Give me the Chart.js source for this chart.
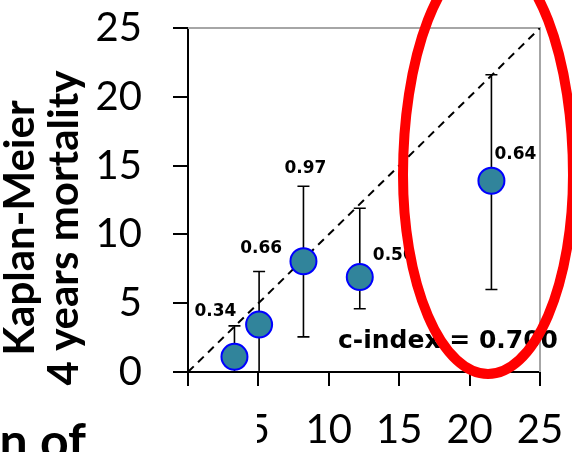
<!DOCTYPE html>
<html>
<head>
<meta charset="utf-8">
<script src="https://cdn.jsdelivr.net/npm/chart.js@4"></script>
<style>
  html, body { margin: 0; padding: 0; background: #fff; }
  #wrap { width: 572px; height: 452px; position: relative; }
</style>
</head>
<body>
<div id="wrap"><canvas id="grafico"></canvas></div>
<script>
// predicted mortality (x) vs Kaplan-Meier observed mortality (y)
const predicted = [3.3, 5.05, 8.2, 12.2, 21.55]
const observed = [1.1, 3.45, 8.05, 6.9, 13.9]
const erroBaixo = [0, 0, 2.55, 4.6, 6.0]
const erroAlto = [3.35, 7.3, 13.5, 11.9, 21.6]
const rotulos = ['0.34', '0.66', '0.97', '0.50', '0.64']
const diagonal = [0, 25]
const ticksEixo = [0, 5, 10, 15, 20, 25]
const tituloY = ['Kaplan-Meier', '4 years mortality']
const textoCindex = 'c-index = 0.700'

// where each value label sits relative to its point (px)
const deslocRotulo = [[-19, -45], [2, -76], [2, -93], [34, -21], [24, -26]]

const pontos = predicted.map((x, i) => ({ x: x, y: observed[i] }))

const desenhos = {
  id: 'desenhos',
  beforeDatasetsDraw(chart) {
    const { ctx, chartArea, scales: { x, y } } = chart
    ctx.save()
    // frame top/right in gray
    ctx.strokeStyle = '#a6a6a6'
    ctx.lineWidth = 2
    ctx.beginPath()
    ctx.moveTo(chartArea.left, chartArea.top)
    ctx.lineTo(chartArea.right, chartArea.top)
    ctx.lineTo(chartArea.right, chartArea.bottom)
    ctx.stroke()
    // error bars
    ctx.strokeStyle = '#000'
    ctx.lineWidth = 1.6
    predicted.forEach((v, i) => {
      const px = x.getPixelForValue(v)
      const y1 = y.getPixelForValue(erroBaixo[i])
      const y2 = y.getPixelForValue(erroAlto[i])
      ctx.beginPath()
      ctx.moveTo(px, y1); ctx.lineTo(px, y2)
      ctx.moveTo(px - 6, y2); ctx.lineTo(px + 6, y2)
      if (erroBaixo[i] > 0) { ctx.moveTo(px - 6, y1); ctx.lineTo(px + 6, y1) }
      ctx.stroke()
    })
    ctx.restore()
  },
  afterDraw(chart) {
    const { ctx, scales: { x, y } } = chart
    ctx.save()
    ctx.fillStyle = '#000'
    ctx.font = 'bold 17px "DejaVu Sans"'
    ctx.textAlign = 'center'
    ctx.textBaseline = 'middle'
    rotulos.forEach((r, i) => {
      const px = x.getPixelForValue(predicted[i]) + deslocRotulo[i][0]
      const py = y.getPixelForValue(observed[i]) + deslocRotulo[i][1]
      ctx.fillText(r, px, py)
    })
    ctx.font = 'bold 25px "DejaVu Sans"'
    ctx.textAlign = 'left'
    ctx.textBaseline = 'alphabetic'
    ctx.fillText(textoCindex, 338, 348)

    // y axis title, two lines rotated
    ctx.save()
    ctx.translate(0, 228)
    ctx.rotate(-Math.PI / 2)
    ctx.font = 'bold 42px Lato'
    ctx.textAlign = 'center'
    ctx.fillText(tituloY[0], 0, 34)
    ctx.fillText(tituloY[1], 0, 78)
    ctx.restore()

    // cropped neighbour caption at bottom left
    ctx.fillStyle = '#fff'
    ctx.fillRect(0, 396, 257, 56)
    ctx.fillStyle = '#000'
    ctx.font = 'bold 50px Lato'
    ctx.textAlign = 'right'
    ctx.fillText('n of', 86, 459)

    // red highlight ring
    ctx.strokeStyle = '#ff0000'
    ctx.lineWidth = 10
    ctx.beginPath()
    ctx.ellipse(488, 175, 85, 219, 0, Math.PI, 2 * Math.PI)
    ctx.ellipse(488, 175, 85, 199, 0, 0, Math.PI)
    ctx.closePath()
    ctx.stroke()
    ctx.restore()
  }
}

const ctx = document.getElementById('grafico')

let grafico = new Chart(ctx, {
  type: 'scatter',
  data: {
    datasets: [{
      data: pontos,
      pointRadius: 13,
      pointHoverRadius: 13,
      backgroundColor: '#31849b',
      borderColor: '#0000ff',
      borderWidth: 2,
      order: 0
    }, {
      data: diagonal.map(v => ({ x: v, y: v })),
      showLine: true,
      pointRadius: 0,
      borderColor: '#000',
      borderWidth: 2,
      borderDash: [8, 6],
      order: 1
    }]
  },
  options: {
    responsive: true,
    maintainAspectRatio: false,
    animation: false,
    events: [],
    layout: { padding: { top: 28, right: 32, left: 0, bottom: 0 } },
    plugins: { legend: { display: false }, tooltip: { enabled: false } },
    scales: {
      x: {
        type: 'linear',
        min: 0,
        max: 25,
        afterBuildTicks: s => { s.ticks = ticksEixo.map(v => ({ value: v })) },
        afterFit: s => { s.height = 80; s.paddingLeft = 0; s.paddingRight = 0 },
        border: { color: '#000', width: 2 },
        grid: { drawOnChartArea: false, drawTicks: true, tickLength: 14, color: '#000', lineWidth: 2 },
        ticks: { color: '#000', font: { family: 'Lato', size: 40 }, padding: 20, maxRotation: 0 }
      },
      y: {
        type: 'linear',
        min: 0,
        max: 25,
        afterBuildTicks: s => { s.ticks = ticksEixo.map(v => ({ value: v })) },
        afterFit: s => { s.width = 188; s.paddingTop = 0; s.paddingBottom = 0 },
        border: { color: '#000', width: 2 },
        grid: { drawOnChartArea: false, drawTicks: true, tickLength: 15, color: '#000', lineWidth: 2 },
        ticks: { color: '#000', font: { family: 'Lato', size: 40 }, padding: 31 }
      }
    }
  },
  plugins: [desenhos]
})
</script>
</body>
</html>
